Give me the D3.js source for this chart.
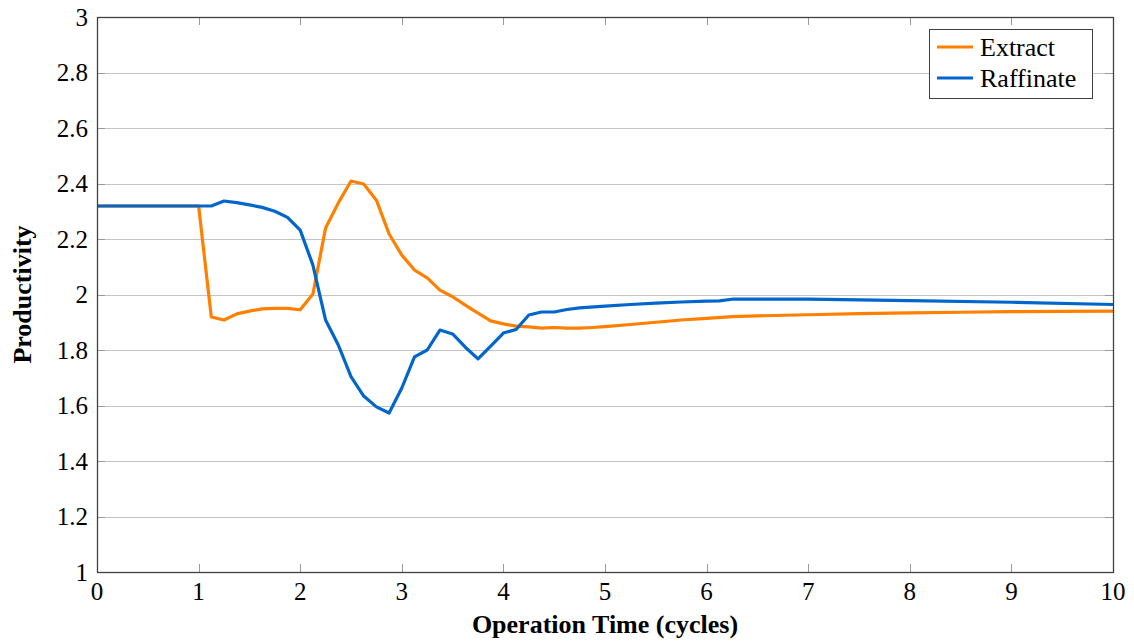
<!DOCTYPE html>
<html>
<head>
<meta charset="utf-8">
<script src="https://cdn.jsdelivr.net/npm/d3@7"></script>
<style>
  html, body { margin: 0; padding: 0; background: #fff; }
  svg { display: block; }
  text { font-family: "Liberation Serif", "DejaVu Serif", serif; fill: #000; }
</style>
</head>
<body>
<svg id="chart" width="1134" height="641"></svg>
<script>
// ---- data ----
const extractTime = [0, 1.0, 1.125, 1.25, 1.375, 1.5, 1.625, 1.75, 1.875, 2.0, 2.125, 2.25, 2.375, 2.5, 2.625, 2.75, 2.875, 3.0, 3.125, 3.25, 3.375, 3.5, 3.625, 3.75, 3.875, 4.0, 4.125, 4.25, 4.375, 4.5, 4.625, 4.75, 4.875, 5.0, 5.25, 5.5, 5.75, 6.0, 6.25, 6.5, 7.0, 7.5, 8.0, 8.5, 9.0, 9.5, 10];
const extractValues = [2.319, 2.319, 1.919, 1.908, 1.930, 1.940, 1.948, 1.950, 1.950, 1.945, 2.002, 2.240, 2.330, 2.409, 2.398, 2.340, 2.218, 2.142, 2.088, 2.060, 2.016, 1.992, 1.962, 1.933, 1.905, 1.894, 1.886, 1.883, 1.879, 1.881, 1.879, 1.879, 1.881, 1.884, 1.892, 1.900, 1.908, 1.914, 1.920, 1.923, 1.927, 1.931, 1.934, 1.936, 1.938, 1.939, 1.940];

const raffinateTime = [0, 1.125, 1.25, 1.375, 1.5, 1.625, 1.75, 1.875, 2.0, 2.125, 2.25, 2.375, 2.5, 2.625, 2.75, 2.875, 3.0, 3.125, 3.25, 3.375, 3.5, 3.625, 3.75, 3.875, 4.0, 4.125, 4.25, 4.375, 4.5, 4.625, 4.75, 5.0, 5.25, 5.5, 5.75, 6.0, 6.125, 6.25, 7.0, 8.0, 9.0, 10];
const raffinateValues = [2.319, 2.319, 2.337, 2.331, 2.323, 2.314, 2.300, 2.278, 2.232, 2.106, 1.908, 1.818, 1.704, 1.634, 1.595, 1.573, 1.663, 1.775, 1.800, 1.872, 1.858, 1.810, 1.768, 1.814, 1.861, 1.874, 1.926, 1.937, 1.937, 1.946, 1.952, 1.958, 1.964, 1.969, 1.973, 1.976, 1.977, 1.983, 1.983, 1.978, 1.972, 1.964];

const xTicks = [0, 1, 2, 3, 4, 5, 6, 7, 8, 9, 10];
const yTicks = [1, 1.2, 1.4, 1.6, 1.8, 2, 2.2, 2.4, 2.6, 2.8, 3];
const seriesNames = ["Extract", "Raffinate"];
const seriesColors = ["#ff8000", "#0066cc"];
const xTitle = "Operation Time (cycles)";
const yTitle = "Productivity";

// ---- layout ----
const W = 1134, H = 641;
const margin = { left: 97, right: 21, top: 17, bottom: 69 };
const iw = W - margin.left - margin.right;
const ih = H - margin.top - margin.bottom;

const svg = d3.select("#chart");
const g = svg.append("g").attr("transform", `translate(${margin.left},${margin.top})`);

const x = d3.scaleLinear().domain([0, 10]).range([0, iw]);
const y = d3.scaleLinear().domain([1, 3]).range([ih, 0]);

// grid lines (horizontal)
g.append("g").selectAll("line").data(yTicks).join("line")
  .attr("x1", 0).attr("x2", iw)
  .attr("y1", d => Math.round(y(d)) + 0.5).attr("y2", d => Math.round(y(d)) + 0.5)
  .attr("stroke", "#c4c4c4").attr("stroke-width", 1);

// inward ticks, all four sides
const tickLen = 8;
const tickColor = "#9a9a9a";
const tg = g.append("g");
xTicks.forEach(t => {
  const px = Math.round(x(t)) + 0.5;
  tg.append("line").attr("x1", px).attr("x2", px).attr("y1", ih).attr("y2", ih - tickLen).attr("stroke", tickColor);
  tg.append("line").attr("x1", px).attr("x2", px).attr("y1", 0).attr("y2", tickLen).attr("stroke", tickColor);
});
yTicks.forEach(t => {
  const py = Math.round(y(t)) + 0.5;
  tg.append("line").attr("x1", 0).attr("x2", tickLen).attr("y1", py).attr("y2", py).attr("stroke", tickColor);
  tg.append("line").attr("x1", iw).attr("x2", iw - tickLen).attr("y1", py).attr("y2", py).attr("stroke", tickColor);
});

// tick labels
const fmt = d => (Number.isInteger(d) ? String(d) : d.toFixed(1));
g.append("g").selectAll("text").data(xTicks).join("text")
  .attr("x", d => x(d)).attr("y", ih + 28)
  .attr("text-anchor", "middle")
  .attr("font-size", 25)
  .text(fmt);
g.append("g").selectAll("text").data(yTicks).join("text")
  .attr("x", -9).attr("y", d => y(d) + 8.5)
  .attr("text-anchor", "end")
  .attr("font-size", 25)
  .text(fmt);

// lines
const line = d3.line().x(d => x(d[0])).y(d => y(d[1]));
const extractData = extractTime.map((t, i) => [t, extractValues[i]]);
const raffinateData = raffinateTime.map((t, i) => [t, raffinateValues[i]]);

svg.append("defs").append("clipPath").attr("id", "clip")
  .append("rect").attr("x", 0).attr("y", 0).attr("width", iw).attr("height", ih);

const lg = g.append("g").attr("clip-path", "url(#clip)");
lg.append("path").datum(extractData).attr("d", line)
  .attr("fill", "none").attr("stroke", seriesColors[0]).attr("stroke-width", 3.2)
  .attr("stroke-linejoin", "round");
lg.append("path").datum(raffinateData).attr("d", line)
  .attr("fill", "none").attr("stroke", seriesColors[1]).attr("stroke-width", 3.2)
  .attr("stroke-linejoin", "round");

// frame
g.append("rect").attr("x", 0.5).attr("y", 0.5).attr("width", iw).attr("height", ih)
  .attr("fill", "none").attr("stroke", "#404040").attr("stroke-width", 1.3);

// axis titles
svg.append("text")
  .attr("x", margin.left + iw / 2).attr("y", 633)
  .attr("text-anchor", "middle")
  .attr("font-size", 26).attr("font-weight", "bold")
  .text(xTitle);
svg.append("text")
  .attr("transform", `translate(31,${margin.top + ih / 2}) rotate(-90)`)
  .attr("text-anchor", "middle")
  .attr("font-size", 26).attr("font-weight", "bold")
  .text(yTitle);

// legend
const leg = svg.append("g");
leg.append("rect").attr("x", 929.5).attr("y", 29.5).attr("width", 163).attr("height", 69)
  .attr("fill", "#fff").attr("stroke", "#404040").attr("stroke-width", 1);
seriesNames.forEach((name, i) => {
  const cy = 47 + i * 31;
  leg.append("line").attr("x1", 937).attr("x2", 973).attr("y1", cy).attr("y2", cy)
    .attr("stroke", seriesColors[i]).attr("stroke-width", 3.2);
  leg.append("text").attr("x", 980).attr("y", cy + 8.5)
    .attr("font-size", 26).text(name);
});
</script>
</body>
</html>
